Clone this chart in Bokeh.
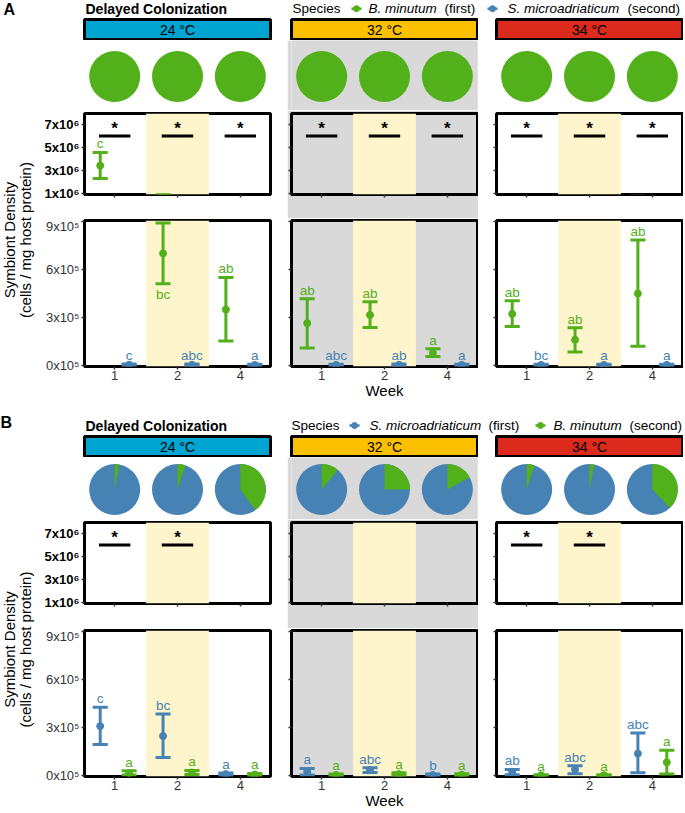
import math
import pandas as pd
from bokeh.plotting import figure
from bokeh.layouts import column, row
from bokeh.models import Range1d, FixedTicker, BoxAnnotation, ColumnDataSource
from bokeh.core.properties import value
from bokeh.embed import file_html
from bokeh.resources import INLINE

FONT = "Liberation Sans"
GREEN = "#52B01A"
BLUE = "#4682B4"
GRAY = "#D9D9D9"
YELLOW = "#FFF5CC"
STRIP_COLORS = ["#00A4D0", "#FBC100", "#DC2B1C"]

# ---------------- data ----------------
weeks = ["1", "2", "4"]
temps = ["24 °C", "32 °C", "34 °C"]
y_upper_ticks = [1e6, 3e6, 5e6, 7e6]
y_upper_labels = ["1x10⁶", "3x10⁶", "5x10⁶", "7x10⁶"]
y_lower_ticks = [0.0, 3e5, 6e5, 9e5]
y_lower_labels = ["0x10⁵", "3x10⁵", "6x10⁵", "9x10⁵"]

# Panel A : B. minutum first (green), S. microadriaticum second (blue)
A_bmin_mean = [[3.43e6, 7.0e5, 3.5e5], [2.65e5, 3.16e5, 0.80e5], [3.23e5, 1.62e5, 4.5e5]]
A_bmin_low = [[2.30e6, 5.1e5, 1.54e5], [1.10e5, 2.38e5, 0.58e5], [2.45e5, 0.86e5, 1.21e5]]
A_bmin_high = [[4.57e6, 8.9e5, 5.5e5], [4.17e5, 3.98e5, 1.05e5], [4.05e5, 2.36e5, 7.83e5]]
A_bmin_letters = [["c", "bc", "ab"], ["ab", "ab", "a"], ["ab", "ab", "ab"]]
A_smic_mean = [[6000, 6000, 5000], [5000, 6000, 5000], [5000, 5000, 5000]]
A_smic_low = [[2000, 2000, 1500], [1500, 2000, 1500], [1500, 1500, 1500]]
A_smic_high = [[10000, 10000, 9000], [9000, 10000, 9000], [9000, 9000, 9000]]
A_smic_letters = [["c", "abc", "a"], ["abc", "ab", "a"], ["bc", "a", "a"]]
A_stars = [[1, 1, 1], [1, 1, 1], [1, 1, 1]]
A_pie_bmin = [[1.0, 1.0, 1.0], [1.0, 1.0, 1.0], [1.0, 1.0, 1.0]]

# Panel B : S. microadriaticum first (blue), B. minutum second (green)
B_smic_mean = [[3.09e5, 2.47e5, 0.10e5], [0.25e5, 0.35e5, 0.05e5], [0.22e5, 0.39e5, 1.38e5]]
B_smic_low = [[1.95e5, 1.13e5, 0.03e5], [0.04e5, 0.20e5, 0.01e5], [0.06e5, 0.12e5, 0.19e5]]
B_smic_high = [[4.26e5, 3.85e5, 0.17e5], [0.45e5, 0.49e5, 0.10e5], [0.39e5, 0.62e5, 2.66e5]]
B_smic_letters = [["c", "bc", "a"], ["a", "abc", "b"], ["ab", "abc", "abc"]]
B_bmin_mean = [[0.17e5, 0.20e5, 0.08e5], [0.05e5, 0.10e5, 0.06e5], [0.03e5, 0.03e5, 0.84e5]]
B_bmin_low = [[0.04e5, 0.08e5, 0.02e5], [0.01e5, 0.03e5, 0.01e5], [0.005e5, 0.005e5, 0.10e5]]
B_bmin_high = [[0.31e5, 0.32e5, 0.14e5], [0.10e5, 0.18e5, 0.12e5], [0.06e5, 0.06e5, 1.58e5]]
B_bmin_letters = [["a", "a", "a"], ["a", "a", "a"], ["a", "a", "a"]]
B_stars = [[1, 1, 0], [0, 0, 0], [1, 1, 0]]
B_pie_bmin = [[0.03, 0.05, 0.40], [0.11, 0.25, 0.17], [0.05, 0.03, 0.38]]

UP_RANGE = (0.92e6, 7.96e6)
LOW_RANGE = (-5000, 905000)
DODGE = 0.23
CAP = 0.12
FRAME_W = 186
BORDERS = [(48, 17), (4, 1), (18, 1)]
YT_W = 36
TOTAL_W = 683


def tidy(series):
    rows = []
    for k, (name, color, mean, low, high, letters) in enumerate(series):
        off = -DODGE if k == 0 else DODGE
        for ti in range(3):
            for wi in range(3):
                rows.append(dict(species=name, color=color, temp=ti, pos=wi + 1,
                                 x=wi + 1 + off, mean=mean[ti][wi], low=low[ti][wi],
                                 high=high[ti][wi], letter=letters[ti][wi]))
    df = pd.DataFrame(rows)
    df["cap_l"] = df["x"] - CAP
    df["cap_r"] = df["x"] + CAP
    return df


def blank(w, h, xr, yr, bg="white", mbl=0, mbr=0, mbt=0, mbb=0):
    p = figure(width=w, height=h, x_range=xr, y_range=yr, output_backend="svg",
               toolbar_location=None, x_axis_location=None, y_axis_location=None,
               min_border_left=mbl, min_border_right=mbr, min_border_top=mbt,
               min_border_bottom=mbb, background_fill_color=bg, border_fill_color=bg)
    p.grid.visible = False
    p.outline_line_color = None
    return p


def style_axis(ax, ticks, labels, show, bold=False, color="#333333", size="13px", standoff=2):
    ax.ticker = FixedTicker(ticks=list(ticks))
    ax.axis_line_color = None
    ax.major_tick_out = 3
    ax.major_tick_in = 0
    ax.minor_tick_line_color = None
    ax.major_tick_line_color = "#333333"
    ax.major_tick_line_width = 1.5
    ax.major_label_text_font = FONT
    ax.major_label_text_font_size = size
    if show:
        ax.major_label_overrides = {float(t): l for t, l in zip(ticks, labels)}
        ax.major_label_text_color = color
        ax.major_label_text_font_style = "bold" if bold else "normal"
        ax.major_label_standoff = standoff
    else:
        ax.major_label_overrides = {float(t): "" for t in ticks}
        ax.major_label_standoff = 0


def plot_fig(w, h, mbl, mbr, mbt, mbb, xr, yr, bg):
    p = figure(width=w, height=h, x_range=xr, y_range=yr, output_backend="svg",
               toolbar_location=None, min_border_left=mbl, min_border_right=mbr,
               min_border_top=mbt, min_border_bottom=mbb, background_fill_color=bg,
               border_fill_color=bg)
    p.grid.visible = False
    p.outline_line_color = "black"
    p.outline_line_width = 3
    p.add_layout(BoxAnnotation(left=1.5, right=2.5, fill_color=YELLOW, fill_alpha=1.0,
                               line_color=None, level="underlay"))
    return p


def draw_points(p, d, lo_lim, hi_lim, letter_room):
    src = ColumnDataSource(d)
    p.segment(x0="x", y0="low", x1="x", y1="high", source=src, line_color="color", line_width=3)
    p.segment(x0="cap_l", y0="high", x1="cap_r", y1="high", source=src, line_color="color", line_width=3)
    p.segment(x0="cap_l", y0="low", x1="cap_r", y1="low", source=src, line_color="color", line_width=3)
    p.scatter(x="x", y="mean", source=src, size=7, fill_color="color", line_color="color")
    vis = d[(d["mean"] >= lo_lim) & (d["mean"] <= hi_lim)]
    above = vis[vis["high"] <= letter_room]
    below = vis[vis["high"] > letter_room]
    if len(above):
        p.text(x="x", y="high", text="letter", source=ColumnDataSource(above), text_color="color",
               text_align="center", text_baseline="middle", y_offset=-8.7,
               text_font=value(FONT), text_font_size="13.5px")
    if len(below):
        p.text(x="x", y="low", text="letter", source=ColumnDataSource(below), text_color="color",
               text_align="center", text_baseline="middle", y_offset=11,
               text_font=value(FONT), text_font_size="13.5px")


def facet_column(df, ti, stars, pie_frac, h_pie, pie_y, h_up):
    mbl, mbr = BORDERS[ti]
    w = mbl + FRAME_W + mbr
    bg = GRAY if ti == 1 else "white"
    xr = Range1d(0.52, 3.48)

    # strip
    s = figure(width=w, height=22, x_range=Range1d(0, 1), y_range=Range1d(0, 1),
               output_backend="svg", toolbar_location=None, x_axis_location=None,
               y_axis_location=None, min_border_left=mbl, min_border_right=mbr,
               min_border_top=1, min_border_bottom=1,
               background_fill_color=STRIP_COLORS[ti], border_fill_color="white")
    s.grid.visible = False
    s.outline_line_color = "black"
    s.outline_line_width = 3
    s.text(x=[0.5], y=[0.5], text=[temps[ti]], text_align="center", text_baseline="middle",
           text_font=value(FONT), text_font_size="14px", text_color="black")

    # pies
    pf = blank(w, h_pie, xr, Range1d(0, 1), bg=bg, mbl=mbl, mbr=mbr)
    fr = pie_frac[ti]
    pos = [1, 2, 3]
    full_g = [x for x, f in zip(pos, fr) if f >= 1]
    base_b = [x for x, f in zip(pos, fr) if f < 1]
    wed = [(x, f) for x, f in zip(pos, fr) if 0 < f < 1]
    if full_g:
        pf.scatter(x=full_g, y=[pie_y] * len(full_g), size=51, fill_color=GREEN, line_color=None)
    if base_b:
        pf.scatter(x=base_b, y=[pie_y] * len(base_b), size=51, fill_color=BLUE, line_color=None)
    if wed:
        pf.wedge(x=[a for a, _ in wed], y=[pie_y] * len(wed), radius=25.5, radius_units="screen",
                 start_angle=[math.pi / 2] * len(wed),
                 end_angle=[math.pi / 2 - 2 * math.pi * f for _, f in wed],
                 direction="clock", fill_color=GREEN, line_color=None)

    d = df[df["temp"] == ti]

    # upper
    u = plot_fig(w, h_up, mbl, mbr, 3, h_up - 84, xr, Range1d(*UP_RANGE), bg)
    style_axis(u.yaxis[0], y_upper_ticks, y_upper_labels, ti == 0, bold=True, color="black")
    style_axis(u.xaxis[0], [1, 2, 3], weeks, False)
    draw_points(u, d, 1e6, 1e12, 1e12)
    sw = [k + 1 for k, s_ in enumerate(stars[ti]) if s_]
    if sw:
        u.segment(x0=[x - 0.25 for x in sw], y0=[6e6] * len(sw), x1=[x + 0.25 for x in sw],
                  y1=[6e6] * len(sw), line_color="black", line_width=3)
        u.text(x=sw, y=[6e6] * len(sw), text=["*"] * len(sw), text_align="center",
               text_baseline="middle", y_offset=-7.7, text_font=value(FONT),
               text_font_size="17px", text_font_style="bold", text_color="black")

    # lower
    bottom = 36 if ti == 1 else 20
    lo = plot_fig(w, 2 + 146 + bottom, mbl, mbr, 2, bottom, xr, Range1d(*LOW_RANGE), bg)
    lo.border_fill_color = "white"
    style_axis(lo.yaxis[0], y_lower_ticks, y_lower_labels, ti == 0)
    style_axis(lo.xaxis[0], [1, 2, 3], weeks, True, size="13px", standoff=1)
    if ti == 1:
        ax = lo.xaxis[0]
        ax.axis_label = "Week"
        ax.axis_label_text_font = FONT
        ax.axis_label_text_font_size = "15px"
        ax.axis_label_text_font_style = "normal"
        ax.axis_label_text_color = "black"
        ax.axis_label_standoff = -1
    draw_points(lo, d, -1e9, 9.5e5, 8.0e5)
    return column(s, pf, u, lo)


def header(h, letter, letter_x, letter_mid, text_mid, legend_items):
    p = blank(TOTAL_W, h, Range1d(0, TOTAL_W), Range1d(h, 0))
    p.text(x=[letter_x], y=[letter_mid], text=[letter], text_font=value(FONT),
           text_font_size="16px", text_font_style="bold", text_baseline="middle",
           text_color="black")
    p.text(x=[85], y=[text_mid], text=["Delayed Colonization"], text_font=value(FONT),
           text_font_size="14px", text_font_style="bold", text_baseline="middle",
           text_color="black")
    for kind, x, txt, col in legend_items:
        if kind == "key":
            p.segment(x0=[x - 5], y0=[text_mid], x1=[x + 5], y1=[text_mid],
                      line_color=col, line_width=2.5)
            p.scatter(x=[x], y=[text_mid], size=6, fill_color=col, line_color=col)
        else:
            style = "italic" if kind == "ital" else "normal"
            p.text(x=[x], y=[text_mid], text=[txt], text_font=value(FONT), text_font_size="13.5px",
                   text_font_style=style, text_baseline="middle", text_color="black")
    return p


def ytitle(h, cy):
    p = blank(YT_W, h, Range1d(0, YT_W), Range1d(h, 0))
    p.text(x=[8.5, 25], y=[cy, cy], text=["Symbiont Density", "(cells / mg host protein)"],
           angle=math.pi / 2, text_align="center", text_baseline="middle",
           text_font=value(FONT), text_font_size="15px", text_color="black")
    return p


dfA = tidy([("B. minutum", GREEN, A_bmin_mean, A_bmin_low, A_bmin_high, A_bmin_letters),
            ("S. microadriaticum", BLUE, A_smic_mean, A_smic_low, A_smic_high, A_smic_letters)])
dfB = tidy([("S. microadriaticum", BLUE, B_smic_mean, B_smic_low, B_smic_high, B_smic_letters),
            ("B. minutum", GREEN, B_bmin_mean, B_bmin_low, B_bmin_high, B_bmin_letters)])

legA = [("norm", 292, "Species", None), ("key", 356, None, GREEN), ("ital", 368, "B. minutum", None),
        ("norm", 444, "(first)", None), ("key", 492, None, BLUE),
        ("ital", 507, "S. microadriaticum", None), ("norm", 627, "(second)", None)]
legB = [("norm", 291, "Species", None), ("key", 354, None, BLUE),
        ("ital", 369, "S. microadriaticum", None), ("norm", 488, "(first)", None),
        ("key", 540, None, GREEN), ("ital", 553, "B. minutum", None), ("norm", 629, "(second)", None)]

hdrA = header(18, "A", 3, 8.5, 8.2, legA)
colsA = [facet_column(dfA, ti, A_stars, A_pie_bmin, 70, 1 - 36 / 70, 108) for ti in range(3)]
ytA = ytitle(22 + 70 + 108 + 184, 221.5)

hdrB = header(33, "B", 0, 20.2, 23, legB)
colsB = [facet_column(dfB, ti, B_stars, B_pie_bmin, 62, 1 - 32 / 62, 109) for ti in range(3)]
ytB = ytitle(22 + 62 + 109 + 184, 214)

p = column(hdrA, row(ytA, *colsA), hdrB, row(ytB, *colsB))
open("out.html", "w").write(file_html(p, INLINE))
